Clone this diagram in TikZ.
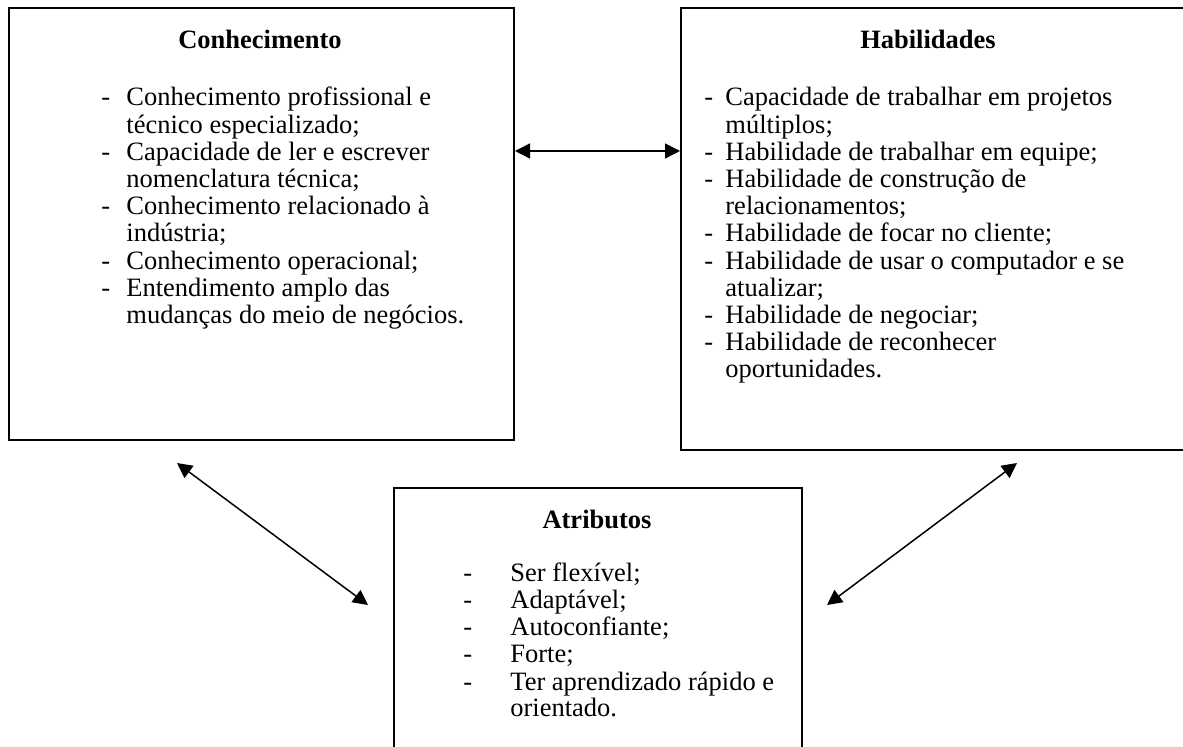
\documentclass[tikz,border=0pt]{standalone}
\usepackage{fontspec}
\setmainfont{Liberation Serif}
\usetikzlibrary{arrows.meta}
\tikzset{
  box/.style={draw, line width=1pt, anchor=north west, inner sep=0pt},
  ttl/.style={font=\fontsize{13.25}{13.3}\selectfont\bfseries, anchor=base, inner sep=0pt},
  itm/.style={font=\fontsize{13.25}{13.3}\selectfont, anchor=base west, inner sep=0pt},
  link/.style={line width=0.75pt, {Triangle[length=7.5pt,width=7.5pt]}-{Triangle[length=7.5pt,width=7.5pt]}},
}
\begin{document}
\begin{tikzpicture}[x=0.5pt,y=-0.5pt]
\path[use as bounding box] (0,0) rectangle (1183,747);
\clip (0,0) rectangle (1183,747);
% boxes
\node[box, minimum width=252.5pt, minimum height=216pt] (kbox) at (8,7) {};
\node[box, minimum width=260pt, minimum height=221pt] (hbox) at (680,7) {};
\node[box, minimum width=204pt, minimum height=140pt] (abox) at (393,487) {};
% titles
\node[ttl] (kt) at (260,49) {Conhecimento};
\node[ttl] (ht) at (928,49) {Habilidades};
\node[ttl] (at) at (597,529) {Atributos};
% Conhecimento items
\foreach \t [count=\i] in {{Conhecimento profissional e},{técnico especializado;},{Capacidade de ler e escrever},{nomenclatura técnica;},{Conhecimento relacionado à},{indústria;},{Conhecimento operacional;},{Entendimento amplo das},{mudanças do meio de negócios.}}
  \node[itm] (k\i) at (126,{106+27.2*(\i-1)}) {\t};
\foreach \i in {1,3,5,7,8}
  \node[itm] (kd\i) at (101,{106+27.2*(\i-1)}) {-};
% Habilidades items
\foreach \t [count=\i] in {{Capacidade de trabalhar em projetos},{múltiplos;},{Habilidade de trabalhar em equipe;},{Habilidade de construção de},{relacionamentos;},{Habilidade de focar no cliente;},{Habilidade de usar o computador e se},{atualizar;},{Habilidade de negociar;},{Habilidade de reconhecer},{oportunidades.}}
  \node[itm] (h\i) at (725,{106+27.2*(\i-1)}) {\t};
\foreach \i in {1,3,4,6,7,9,10}
  \node[itm] (hd\i) at (704,{106+27.2*(\i-1)}) {-};
% Atributos items
\foreach \t [count=\i] in {{Ser flexível;},{Adaptável;},{Autoconfiante;},{Forte;},{Ter aprendizado rápido e},{orientado.}}
  \node[itm] (a\i) at (510,{582+27*(\i-1)}) {\t};
\foreach \i in {1,...,5}
  \node[itm] (ad\i) at (463,{582+27*(\i-1)}) {-};
% connectors
\coordinate (c1) at (177,463);
\coordinate (c2) at (368,605);
\coordinate (c3) at (1017,463);
\coordinate (c4) at (827,605);
\draw[link] (kbox.east |- 0,151) -- (hbox.west |- 0,151);
\draw[link] (c1) -- (c2);
\draw[link] (c3) -- (c4);
\end{tikzpicture}
\end{document}
